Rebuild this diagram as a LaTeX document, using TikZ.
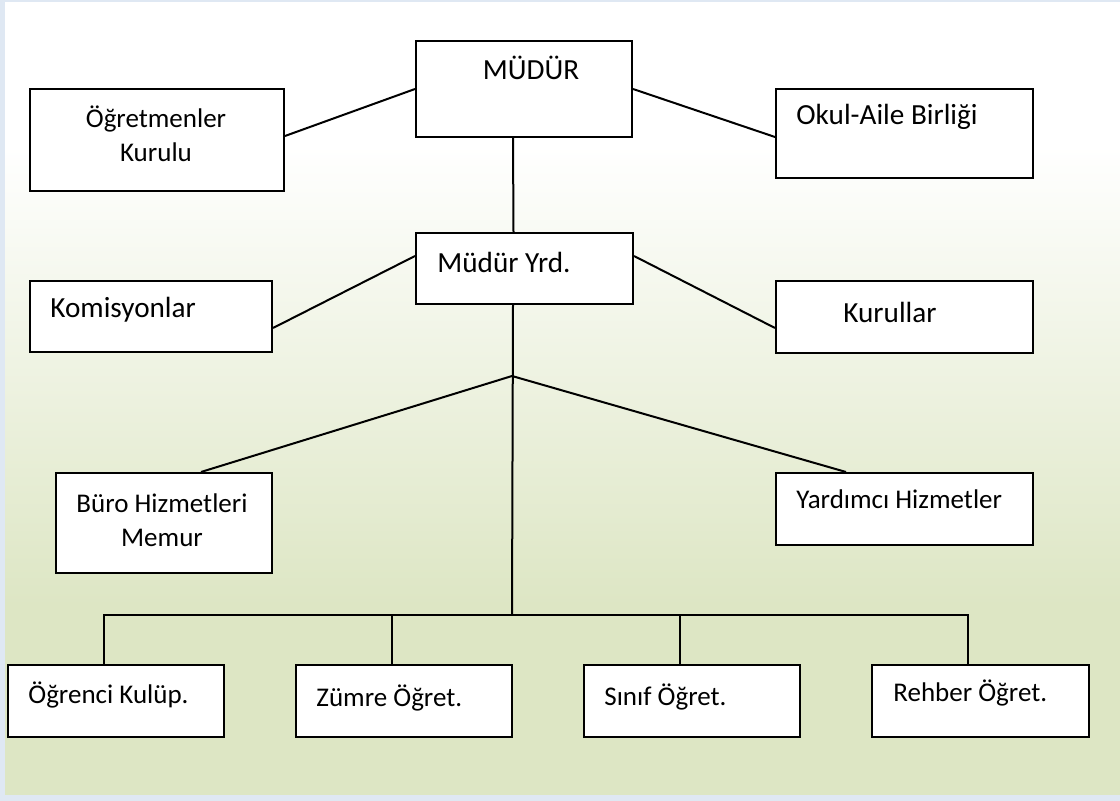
\documentclass[tikz,border=0pt]{standalone}
\usepackage{fontspec}
\setmainfont{Carlito}
\definecolor{gbot}{HTML}{DDE6C4}
\definecolor{frameblue}{HTML}{DFE8F3}
\pgfdeclareverticalshading{bgshade}{100bp}{color(0bp)=(gbot); color(25bp)=(gbot); color(37bp)=(gbot); color(66bp)=(white); color(75bp)=(white); color(100bp)=(white)}
\begin{document}
\begin{tikzpicture}[x=0.5pt,y=-0.5pt,
  box/.style={draw=black, fill=white, line width=1pt, inner sep=0pt, anchor=north west},
  txt/.style={inner sep=0pt, font=\fontsize{13.5pt}{17pt}\selectfont, text=black},
  big/.style={inner sep=0pt, font=\fontsize{14.6pt}{18pt}\selectfont, text=black},
  conn/.style={draw=black, line width=1pt}]
\useasboundingbox (0,0) rectangle (1120,801);
\fill[frameblue] (0,0) rectangle (1120,801);
\shade[shading=bgshade] (5,3) rectangle (1120,795);
% boxes
\node[box, minimum width=108pt, minimum height=48pt] (mudur) at (415,40) {};
\node[box, minimum width=127pt, minimum height=51pt] (ogret) at (29,88) {};
\node[box, minimum width=128.5pt, minimum height=44.5pt] (okul) at (775,88) {};
\node[box, minimum width=108.5pt, minimum height=35.5pt] (yrd) at (415,232) {};
\node[box, minimum width=121pt, minimum height=35.5pt] (komis) at (29,280) {};
\node[box, minimum width=128.5pt, minimum height=36pt] (kurul) at (775,280) {};
\node[box, minimum width=108pt, minimum height=50pt] (buro) at (55,472) {};
\node[box, minimum width=128.5pt, minimum height=36pt] (yard) at (775,472) {};
\node[box, minimum width=108pt, minimum height=36pt] (ogr) at (7,664) {};
\node[box, minimum width=108pt, minimum height=36pt] (zum) at (295,664) {};
\node[box, minimum width=108pt, minimum height=36pt] (sin) at (583,664) {};
\node[box, minimum width=108.5pt, minimum height=36pt] (reh) at (871,664) {};
% texts
\node[big] (tmudur) at (531,68) {MÜDÜR};
\node[txt, align=center] (togret) at (156,134) {Öğretmenler\\Kurulu};
\node[big, anchor=west] (tokul) at (796,117) {Okul-Aile Birliği};
\node[big, anchor=west] (tyrd) at (437,262) {Müdür Yrd.};
\node[big, anchor=west] (tkomis) at (50,310) {Komisyonlar};
\node[big, anchor=west] (tkurul) at (843,312) {Kurullar};
\node[txt, align=center] (tburo) at (162,520) {Büro Hizmetleri\\Memur};
\node[txt, anchor=west] (tyard) at (796,499) {Yardımcı Hizmetler};
\node[txt, anchor=west] (togr) at (28,695) {Öğrenci Kulüp.};
\node[txt, anchor=west] (tzum) at (316,698) {Zümre Öğret.};
\node[txt, anchor=west] (tsin) at (604,697) {Sınıf Öğret.};
\node[txt, anchor=west] (treh) at (893,693) {Rehber Öğret.};
% connectors
\coordinate (br) at (512,376);
\coordinate (bus) at (512,615);
\draw[conn] (mudur.west) -- ([shift={(0,-4)}]ogret.east);
\draw[conn] (mudur.east) -- ([shift={(0,3.5)}]okul.west);
\draw[conn] ([shift={(-11,0)}]mudur.south) -- ([shift={(-11,0)}]yrd.north);
\draw[conn] ([shift={(0,-12.5)}]yrd.west) -- ([shift={(0,11.5)}]komis.east);
\draw[conn] ([shift={(0,-12.5)}]yrd.east) -- ([shift={(0,11)}]kurul.west);
\draw[conn] ([shift={(-11.5,0)}]yrd.south) -- (bus);
\draw[conn] (br) -- ([shift={(37,0)}]buro.north);
\draw[conn] (br) -- ([shift={(-58.5,0)}]yard.north);
\draw[conn] ([shift={(-12,0)}]ogr.north) |- (bus) -| ([shift={(-12.5,0)}]reh.north);
\draw[conn] ([shift={(-12,0)}]zum.north) -- ([shift={(-12,0)}]zum.north |- bus);
\draw[conn] ([shift={(-12,0)}]sin.north) -- ([shift={(-12,0)}]sin.north |- bus);
\end{tikzpicture}
\end{document}
